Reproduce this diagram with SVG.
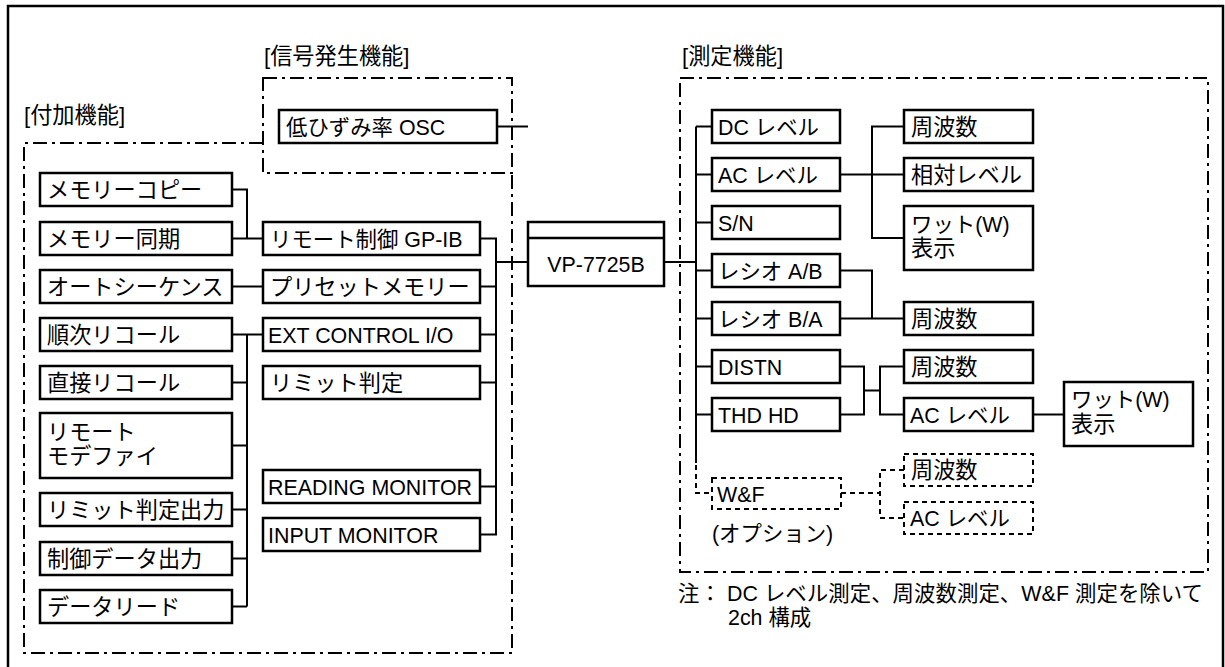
<svg xmlns="http://www.w3.org/2000/svg" width="1225" height="667" viewBox="0 0 1225 667">
<style>
.frame{fill:none;stroke:#000;stroke-width:2.5}
.box{fill:#fff;stroke:#000;stroke-width:2.5}
.dbox{fill:#fff;stroke:#000;stroke-width:2;stroke-dasharray:5 4}
.grp{fill:none;stroke:#000;stroke-width:2;stroke-dasharray:14 5 3 5}
.ln{fill:none;stroke:#000;stroke-width:2}
.dl{fill:none;stroke:#000;stroke-width:2;stroke-dasharray:5 4}
text{font-family:"Liberation Sans","Noto Sans CJK JP",sans-serif;font-size:21.4px;fill:#000}
.j{font-size:22.2px}
</style>
<rect width="1225" height="667" fill="#fff"/>
<rect class="frame" x="8" y="6" width="1215" height="680"/>

<g id="groups">
  <path class="grp" d="M263,143 H24 V653 H512 V173"/>
  <rect class="grp" x="263" y="78" width="249" height="95"/>
  <rect class="grp" x="680" y="78" width="528" height="494"/>
  <text class="j" x="24" y="123">[付加機能]</text>
  <text class="j" x="264" y="64">[信号発生機能]</text>
  <text class="j" x="682" y="64">[測定機能]</text>
</g>

<g id="connectors">
  <path class="ln" d="M232,189.5 H247 V238.5 M232,238.5 H263 M232,286.5 H263 M232,334.5 H263 M247,334.5 V606.5 M232,382.5 H247 M232,445.5 H247 M232,509.5 H247 M232,558.5 H247 M232,606.5 H247"/>
  <path class="ln" d="M480,238.5 H496 V534.5 H480 M480,286.5 H496 M480,334.5 H496 M480,382.5 H496 M480,486.5 H496 M496,262 H528"/>
  <path class="ln" d="M497,126.5 H528"/>
  <path class="ln" d="M664,262 H696 M696,126.5 V463 M696,126.5 H712 M696,174.5 H712 M696,222.5 H712 M696,270.5 H712 M696,318.5 H712 M696,366.5 H712 M696,414.5 H712"/>
  <path class="ln" d="M904,126.5 H872 V238 H904 M840,174.5 H904"/>
  <path class="ln" d="M840,270.5 H872 V318.5 M840,318.5 H904"/>
  <path class="ln" d="M840,366.5 H864 V414.5 H840 M864,390.5 H880 M904,366.5 H880 V414.5 H904 M1033,414.5 H1064"/>
  <path class="dl" d="M696,465 V493 H712 M841,493 H880 M904,470 H880 V518 H904"/>
</g>

<g id="n-memcopy"><rect class="box" x="40" y="173" width="192" height="33"/><text class="j" x="47" y="198">メモリーコピー</text></g>
<g id="n-memsync"><rect class="box" x="40" y="222" width="192" height="33"/><text class="j" x="47" y="247">メモリー同期</text></g>
<g id="n-autoseq"><rect class="box" x="40" y="270" width="192" height="33"/><text class="j" x="47" y="295">オートシーケンス</text></g>
<g id="n-seqrecall"><rect class="box" x="40" y="318" width="192" height="33"/><text class="j" x="47" y="343">順次リコール</text></g>
<g id="n-directrecall"><rect class="box" x="40" y="366" width="192" height="33"/><text class="j" x="47" y="391">直接リコール</text></g>
<g id="n-remotemodify"><rect class="box" x="40" y="413" width="192" height="65"/><text class="j" x="47" y="440">リモート</text><text class="j" x="47" y="464">モデファイ</text></g>
<g id="n-limitout"><rect class="box" x="40" y="493" width="192" height="33"/><text class="j" x="47" y="518">リミット判定出力</text></g>
<g id="n-ctrlout"><rect class="box" x="40" y="542" width="192" height="33"/><text class="j" x="47" y="567">制御データ出力</text></g>
<g id="n-dataread"><rect class="box" x="40" y="590" width="192" height="33"/><text class="j" x="47" y="615">データリード</text></g>

<g id="n-gpib"><rect class="box" x="263" y="222" width="217" height="33"/><text x="270" y="247">リモート制御 GP-IB</text></g>
<g id="n-preset"><rect class="box" x="263" y="270" width="217" height="33"/><text class="j" x="270" y="295">プリセットメモリー</text></g>
<g id="n-extctrl"><rect class="box" x="263" y="318" width="217" height="33"/><text x="268" y="343">EXT CONTROL I/O</text></g>
<g id="n-limit"><rect class="box" x="263" y="366" width="217" height="33"/><text class="j" x="270" y="391">リミット判定</text></g>
<g id="n-readmon"><rect class="box" x="263" y="470" width="217" height="33"/><text x="268" y="495">READING MONITOR</text></g>
<g id="n-inputmon"><rect class="box" x="263" y="518" width="217" height="33"/><text x="268" y="543">INPUT MONITOR</text></g>

<g id="n-osc"><rect class="box" x="279" y="110" width="218" height="33"/><text x="286" y="135">低ひずみ率 OSC</text></g>

<g id="n-vp"><rect class="box" x="528" y="222" width="136" height="64"/><line class="ln" x1="528" y1="238" x2="664" y2="238" style="stroke-width:2.5"/><text x="596" y="272" text-anchor="middle">VP-7725B</text></g>

<g id="n-dc"><rect class="box" x="712" y="110" width="128" height="33"/><text x="718" y="135">DC レベル</text></g>
<g id="n-ac"><rect class="box" x="712" y="158" width="128" height="33"/><text x="718" y="183">AC レベル</text></g>
<g id="n-sn"><rect class="box" x="712" y="206" width="128" height="33"/><text x="718" y="231">S/N</text></g>
<g id="n-ratioab"><rect class="box" x="712" y="254" width="128" height="33"/><text x="718" y="279">レシオ A/B</text></g>
<g id="n-ratioba"><rect class="box" x="712" y="302" width="128" height="33"/><text x="718" y="327">レシオ B/A</text></g>
<g id="n-distn"><rect class="box" x="712" y="350" width="128" height="33"/><text x="718" y="375">DISTN</text></g>
<g id="n-thd"><rect class="box" x="712" y="398" width="128" height="33"/><text x="718" y="423">THD HD</text></g>
<g id="n-wf"><rect class="dbox" x="712" y="478" width="129" height="31"/><text x="717" y="502">W&amp;F</text></g>
<text x="712" y="541">(オプション)</text>

<g id="n-freq1"><rect class="box" x="904" y="110" width="129" height="33"/><text class="j" x="911" y="135">周波数</text></g>
<g id="n-rellevel"><rect class="box" x="904" y="158" width="129" height="33"/><text class="j" x="911" y="183">相対レベル</text></g>
<g id="n-watt1"><rect class="box" x="904" y="206" width="129" height="64"/><text x="911" y="232">ワット(W)</text><text class="j" x="911" y="256">表示</text></g>
<g id="n-freq2"><rect class="box" x="904" y="302" width="129" height="33"/><text class="j" x="911" y="327">周波数</text></g>
<g id="n-freq3"><rect class="box" x="904" y="350" width="129" height="33"/><text class="j" x="911" y="375">周波数</text></g>
<g id="n-aclevel2"><rect class="box" x="904" y="398" width="129" height="33"/><text x="910" y="423">AC レベル</text></g>
<g id="n-watt2"><rect class="box" x="1064" y="382" width="129" height="64"/><text x="1071" y="407">ワット(W)</text><text class="j" x="1071" y="432">表示</text></g>
<g id="n-freq4"><rect class="dbox" x="904" y="454" width="129" height="32"/><text class="j" x="911" y="478">周波数</text></g>
<g id="n-aclevel3"><rect class="dbox" x="904" y="502" width="129" height="32"/><text x="910" y="526">AC レベル</text></g>

<g id="note">
  <text x="678" y="601" textLength="525" lengthAdjust="spacing">注： DC レベル測定、周波数測定、W&amp;F 測定を除いて</text>
  <text x="728" y="625">2ch 構成</text>
</g>
</svg>
